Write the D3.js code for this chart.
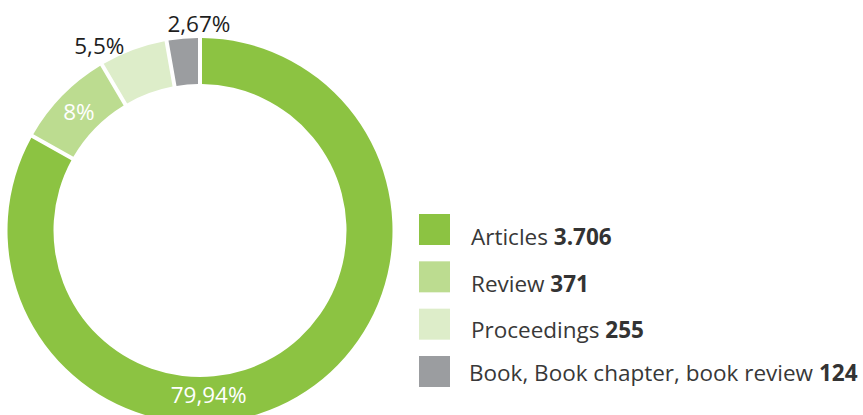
<!DOCTYPE html>
<html><head><meta charset="utf-8">
<script src="https://cdn.jsdelivr.net/npm/d3@7"></script>
<style>html,body{margin:0;padding:0;background:#fff;}svg{display:block;font-family:"Open Sans",sans-serif;}</style>
</head><body>
<svg id="c" width="863" height="415"></svg>
<script>
const categories = ["Articles", "Review", "Proceedings", "Book, Book chapter, book review"];
const counts = [3706, 371, 255, 124];
const countLabels = ["3.706", "371", "255", "124"];
const percentLabels = ["79,94%", "8%", "5,5%", "2,67%"];
const colors = ["#8cc342", "#bcdc90", "#ddedc9", "#9b9da0"];

const svg = d3.select("#c");
const cx = 200, cy = 230.5, rOuter = 192.5, rInner = 146.5;
const g = svg.append("g").attr("transform", `translate(${cx},${cy})`);

const data = categories.map((c, i) => ({cat: c, value: counts[i], i}));
const pie = d3.pie().value(d => d.value).sort(null);
const gap = 4;
const arc = d3.arc().innerRadius(rInner).outerRadius(rOuter)
  .padAngle(gap / rOuter).padRadius(rOuter);
const arcs = pie(data);

g.selectAll("path.slice").data(arcs).join("path")
  .attr("class", "slice")
  .attr("d", arc)
  .attr("fill", d => colors[d.data.i]);

// label placement: [angle (deg, clockwise from top), radius, color]
const labelPlace = [
  {ang: 177, r: 164, fill: "#ffffff"},
  {centroid: true, fill: "#ffffff"},
  {ang: 331.5, r: 211, fill: "#1e1e1e"},
  {ang: 359.7, r: 207, fill: "#1e1e1e"}
];
g.selectAll("text.pct").data(arcs).join("text")
  .attr("class", "pct")
  .attr("text-anchor", "middle")
  .attr("dominant-baseline", "central")
  .attr("font-size", 22.5)
  .attr("fill", d => labelPlace[d.data.i].fill)
  .attr("transform", d => {
    const p = labelPlace[d.data.i];
    if (p.centroid) { const c = arc.centroid(d); return `translate(${c[0]},${c[1]})`; }
    const a = p.ang * Math.PI / 180;
    return `translate(${p.r * Math.sin(a)},${-p.r * Math.cos(a)})`;
  })
  .text(d => percentLabels[d.data.i]);

// legend
const ly = d3.scaleLinear().domain([0, 3]).range([214, 356]);
const baseOff = [30.5, 30.5, 29.5, 24.5];
const leg = svg.append("g");
const rows = leg.selectAll("g").data(data).join("g")
  .attr("transform", d => `translate(419,${ly(d.i)})`);
rows.append("rect").attr("width", 31).attr("height", 31).attr("fill", d => colors[d.i]);
const t = rows.append("text")
  .attr("x", d => d.i === 3 ? 50 : 52)
  .attr("y", d => baseOff[d.i])
  .attr("font-size", 22.5)
  .attr("fill", "#383838");
t.append("tspan").text(d => d.cat + " ");
t.append("tspan").attr("font-weight", "bold").attr("fill", "#333").text(d => countLabels[d.i]);
</script>
</body></html>
